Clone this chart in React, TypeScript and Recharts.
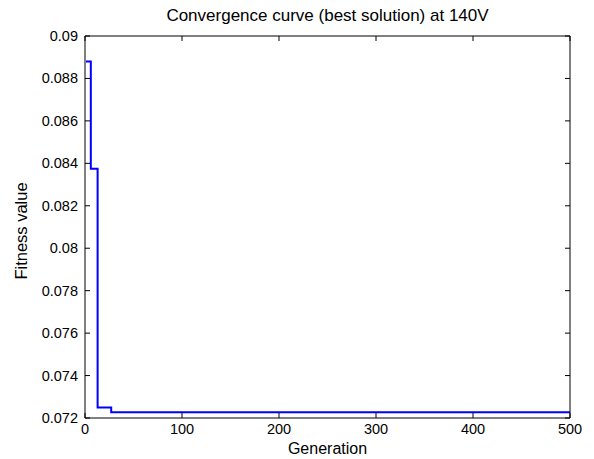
import React from 'react';
import { LineChart, Line, XAxis, YAxis } from 'recharts';

const generations = [1, 6, 13, 27, 500];
const fitness = [0.0888, 0.08374, 0.07249, 0.07227, 0.07227];
const xTicks = [0, 100, 200, 300, 400, 500];
const yTicks = [0.072, 0.074, 0.076, 0.078, 0.08, 0.082, 0.084, 0.086, 0.088, 0.09];

const titleText = 'Convergence curve (best solution) at 140V';
const xLabel = 'Generation';
const yLabel = 'Fitness value';

const data = generations.map((g, i) => ({ gen: g, fit: fitness[i] }));

const FONT = '"Liberation Sans", Arial, Helvetica, sans-serif';
const fmtY = (v: number) => String(Number(v.toFixed(3)));

const BottomTick = (p: any) => (
  <g>
    <line x1={p.x} y1={p.y} x2={p.x} y2={p.y - 5} stroke="#000" strokeWidth={1} />
    <text x={p.x} y={p.y + 16} textAnchor="middle" fontSize={14.5} fontFamily={FONT} fill="#000">
      {p.payload.value}
    </text>
  </g>
);
const TopTick = (p: any) => (
  <line x1={p.x} y1={p.y} x2={p.x} y2={p.y + 5} stroke="#000" strokeWidth={1} />
);
const LeftTick = (p: any) => (
  <g>
    <line x1={p.x} y1={p.y} x2={p.x + 5} y2={p.y} stroke="#000" strokeWidth={1} />
    <text x={p.x - 7} y={p.y + 5} textAnchor="end" fontSize={14.5} fontFamily={FONT} fill="#000">
      {fmtY(p.payload.value)}
    </text>
  </g>
);
const RightTick = (p: any) => (
  <line x1={p.x} y1={p.y} x2={p.x - 5} y2={p.y} stroke="#000" strokeWidth={1} />
);

export default function App() {
  const axisLine = { stroke: '#000', strokeWidth: 1 };
  return (
    <div style={{ position: 'absolute', left: 0, top: 0, width: 594, height: 459, background: '#fff', fontFamily: FONT }}>
      <div style={{ position: 'absolute', left: 85, width: 485, top: 7, textAlign: 'center', fontSize: 17, lineHeight: '17px', whiteSpace: 'nowrap', color: '#000' }}>
        {titleText}
      </div>
      <div style={{ position: 'absolute', left: 85, width: 485, top: 441, textAlign: 'center', fontSize: 16, lineHeight: '16px', whiteSpace: 'nowrap', color: '#000' }}>
        {xLabel}
      </div>
      <div style={{ position: 'absolute', left: 21, top: 231, transform: 'translate(-50%, -50%) rotate(-90deg)', fontSize: 16.5, lineHeight: '16px', whiteSpace: 'nowrap', color: '#000' }}>
        {yLabel}
      </div>
      <div style={{ position: 'absolute', left: 0, top: 0 }}>
        <LineChart width={594} height={459} data={data} margin={{ top: 35, right: 23, bottom: 0, left: 0 }}>
          <XAxis dataKey="gen" type="number" domain={[0, 500]} ticks={xTicks} allowDataOverflow
            height={41} tickSize={0} tickMargin={0} tickLine={false} axisLine={axisLine} tick={<BottomTick />} interval={0} />
          <XAxis xAxisId="top" orientation="top" dataKey="gen" type="number" domain={[0, 500]} ticks={xTicks} allowDataOverflow
            height={1} tickSize={0} tickMargin={0} tickLine={false} axisLine={axisLine} tick={<TopTick />} interval={0} />
          <YAxis type="number" domain={[0.072, 0.09]} ticks={yTicks} allowDataOverflow width={85}
            tickSize={0} tickMargin={0} tickLine={false} axisLine={axisLine} tick={<LeftTick />} interval={0} />
          <YAxis yAxisId="right" orientation="right" type="number" domain={[0.072, 0.09]} ticks={yTicks} allowDataOverflow width={1}
            tickSize={0} tickMargin={0} tickLine={false} axisLine={axisLine} tick={<RightTick />} interval={0} />
          <Line xAxisId="top" yAxisId="right" dataKey="fit" type="stepAfter" stroke="none" strokeWidth={0} dot={false} activeDot={false} legendType="none" isAnimationActive={false} />
          <Line dataKey="fit" type="stepAfter" stroke="#0000ff" strokeWidth={2} dot={false} isAnimationActive={false} />
        </LineChart>
      </div>
    </div>
  );
}
